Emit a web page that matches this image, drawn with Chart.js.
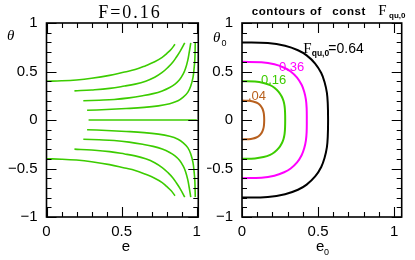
<!DOCTYPE html>
<html><head><meta charset="utf-8">
<script src="https://cdn.jsdelivr.net/npm/chart.js@4/dist/chart.umd.min.js"></script>
<style>
html,body{margin:0;padding:0;background:#fff;width:415px;height:260px;overflow:hidden}
#cL{position:absolute;left:0;top:0}
#cR{position:absolute;left:207px;top:0}
</style></head><body>
<canvas id="cL" width="207" height="260"></canvas>
<canvas id="cR" width="208" height="260"></canvas>
<script>
// ---------- DATA ----------
// Left panel: theta vs e, F = 0.16 (green curves)
const c1E = [0, 0.1, 0.2, 0.3, 0.42, 0.52, 0.59, 0.66, 0.72, 0.77, 0.80, 0.83, 0.855];
const c1T = [0.40, 0.404, 0.413, 0.43, 0.46, 0.495, 0.52, 0.56, 0.60, 0.645, 0.685, 0.73, 0.78];
const c1Tn = [-0.40, -0.404, -0.413, -0.43, -0.46, -0.495, -0.52, -0.56, -0.60, -0.645, -0.685, -0.73, -0.78];
const c2E = [0.186, 0.3, 0.42, 0.52, 0.59, 0.66, 0.72, 0.77, 0.81, 0.84, 0.865, 0.89, 0.92];
const c2T = [0.30, 0.31, 0.326, 0.35, 0.37, 0.40, 0.44, 0.49, 0.545, 0.595, 0.65, 0.71, 0.795];
const c2Tn = [-0.30, -0.31, -0.326, -0.35, -0.37, -0.40, -0.44, -0.49, -0.545, -0.595, -0.65, -0.71, -0.795];
const c3E = [0.245, 0.35, 0.45, 0.55, 0.64, 0.71, 0.77, 0.82, 0.855, 0.885, 0.91, 0.925, 0.94, 0.95, 0.96];
const c3T = [0.198, 0.204, 0.212, 0.228, 0.25, 0.272, 0.30, 0.335, 0.37, 0.415, 0.475, 0.53, 0.615, 0.70, 0.795];
const c3Tn = [-0.198, -0.204, -0.212, -0.228, -0.25, -0.272, -0.30, -0.335, -0.37, -0.415, -0.475, -0.53, -0.615, -0.70, -0.795];
const c4E = [0.27, 0.4, 0.53, 0.65, 0.745, 0.82, 0.875, 0.91, 0.94, 0.96, 0.975, 0.982, 0.987, 0.99];
const c4T = [0.10, 0.108, 0.118, 0.13, 0.146, 0.168, 0.198, 0.235, 0.285, 0.35, 0.44, 0.53, 0.62, 0.795];
const c4Tn = [-0.10, -0.108, -0.118, -0.13, -0.146, -0.168, -0.198, -0.235, -0.285, -0.35, -0.44, -0.53, -0.62, -0.795];
const c5E = [0.28, 1.0];
const c5T = [0, 0];

// Right panel: contours of constant F_qu,0 in (e0, theta0)
const contourLabels = ['0.64', '0.36', '0.16', '.04'];
const k64E = [0, 0.170, 0.283, 0.368, 0.425, 0.481, 0.521, 0.543, 0.558, 0.564, 0.566, 0.564, 0.558, 0.543, 0.521, 0.481, 0.425, 0.368, 0.283, 0.170, 0];
const k64T = [0.80, 0.793, 0.765, 0.719, 0.666, 0.582, 0.484, 0.390, 0.283, 0.166, 0, -0.166, -0.283, -0.390, -0.484, -0.582, -0.666, -0.719, -0.765, -0.793, -0.80];
const k36E = [0, 0.128, 0.213, 0.277, 0.320, 0.362, 0.392, 0.409, 0.420, 0.425, 0.426, 0.425, 0.420, 0.409, 0.392, 0.362, 0.320, 0.277, 0.213, 0.128, 0];
const k36T = [0.60, 0.595, 0.574, 0.539, 0.500, 0.437, 0.363, 0.292, 0.212, 0.125, 0, -0.125, -0.212, -0.292, -0.363, -0.437, -0.500, -0.539, -0.574, -0.595, -0.60];
const k16E = [0, 0.085, 0.142, 0.185, 0.213, 0.241, 0.261, 0.273, 0.280, 0.283, 0.284, 0.283, 0.280, 0.273, 0.261, 0.241, 0.213, 0.185, 0.142, 0.085, 0];
const k16T = [0.40, 0.396, 0.382, 0.360, 0.333, 0.291, 0.242, 0.195, 0.142, 0.083, 0, -0.083, -0.142, -0.195, -0.242, -0.291, -0.333, -0.360, -0.382, -0.396, -0.40];
const k04E = [0, 0.044, 0.073, 0.094, 0.109, 0.123, 0.133, 0.139, 0.143, 0.145, 0.146, 0.145, 0.143, 0.139, 0.133, 0.123, 0.109, 0.094, 0.073, 0.044, 0];
const k04T = [0.20, 0.198, 0.191, 0.180, 0.167, 0.146, 0.121, 0.097, 0.071, 0.042, 0, -0.042, -0.071, -0.097, -0.121, -0.146, -0.167, -0.180, -0.191, -0.198, -0.20];

// Axis ticks
const tickStep = 0.1;
const majorTicks = [-1, -0.5, 0, 0.5, 1];

// ---------- helpers ----------
const zip = (xs, ys) => xs.map((v, i) => ({x: v, y: ys[i]}));
const GREEN = '#3ccc00', MAGENTA = '#ff00ff', BROWN = '#b8601e', BLACK = '#000';
const isMajor = v => majorTicks.some(m => Math.abs(m - v) < 1e-6);
const fmt = v => {
  if (!isMajor(v)) return '';
  const r = Math.round(v * 2) / 2;
  if (r === 0) return '0';
  return (r < 0 ? '\u2212' : '') + String(Math.abs(r));
};

const frameTicks = {
  id: 'frameTicks',
  afterDatasetsDraw(chart) {
    const {ctx, chartArea: a, scales: {x, y}} = chart;
    ctx.save();
    ctx.strokeStyle = '#000';
    ctx.lineWidth = 1.1;
    ctx.beginPath();
    x.ticks.forEach(t => {
      const px = Math.round(x.getPixelForValue(t.value)) + 0.5;
      const L = isMajor(t.value) ? 10 : 5;
      ctx.moveTo(px, a.bottom); ctx.lineTo(px, a.bottom - L);
      ctx.moveTo(px, a.top); ctx.lineTo(px, a.top + L);
    });
    y.ticks.forEach(t => {
      const py = Math.round(y.getPixelForValue(t.value)) + 0.5;
      const L = isMajor(t.value) ? 10 : 5;
      ctx.moveTo(a.left, py); ctx.lineTo(a.left + L, py);
      ctx.moveTo(a.right, py); ctx.lineTo(a.right - L, py);
    });
    ctx.stroke();
    ctx.lineWidth = 1.6;
    ctx.strokeRect(a.left, a.top, a.right - a.left, a.bottom - a.top);
    ctx.restore();
  }
};

const textPlugin = {
  id: 'texts',
  afterDraw(chart, args, opts) {
    const ctx = chart.ctx;
    ctx.save();
    (opts.items || []).forEach(it => {
      ctx.font = it.font;
      ctx.fillStyle = it.color || '#000';
      ctx.textAlign = it.align || 'left';
      ctx.textBaseline = 'alphabetic';
      ctx.letterSpacing = it.ls || '0px';
      ctx.fillText(it.t, it.x, it.y);
    });
    ctx.restore();
  }
};

function scaleOpts(min, max, fitFn) {
  return {
    type: 'linear', min, max,
    ticks: {
      stepSize: tickStep, autoSkip: false, includeBounds: false, maxRotation: 0,
      padding: 0, color: '#000',
      font: {family: "'Liberation Sans', Arial, sans-serif", size: 15},
      callback: v => fmt(v)
    },
    grid: {display: false, drawTicks: false},
    border: {display: false},
    afterFit: fitFn
  };
}

function makeChart(id, datasets, xMax, yWidth, padRight, items, lineW) {
  const xs = scaleOpts(0, xMax, s => { s.height = 43; });
  xs.ticks.padding = 6;
  const ys = scaleOpts(-1, 1, s => { s.width = yWidth; });
  ys.ticks.padding = 9;
  return new Chart(document.getElementById(id), {
    type: 'scatter',
    data: {datasets: datasets.map(d => ({
      data: d.data, borderColor: d.color, backgroundColor: d.color,
      showLine: true, pointRadius: 0, borderWidth: lineW, tension: 0.4, fill: false
    }))},
    options: {
      responsive: false, animation: false, devicePixelRatio: 1,
      layout: {padding: {top: 23, right: padRight, left: 0, bottom: 0}},
      scales: {x: xs, y: ys},
      plugins: {legend: {display: false}, tooltip: {enabled: false}, texts: {items}}
    },
    plugins: [frameTicks, textPlugin]
  });
}

const SANS = "'Liberation Sans', Arial, sans-serif";
const SERIF = "'Liberation Serif', 'Times New Roman', serif";

// Left chart
makeChart('cL', [
  {data: zip(c1E, c1T), color: GREEN}, {data: zip(c1E, c1Tn), color: GREEN},
  {data: zip(c2E, c2T), color: GREEN}, {data: zip(c2E, c2Tn), color: GREEN},
  {data: zip(c3E, c3T), color: GREEN}, {data: zip(c3E, c3Tn), color: GREEN},
  {data: zip(c4E, c4T), color: GREEN}, {data: zip(c4E, c4Tn), color: GREEN},
  {data: zip(c5E, c5T), color: GREEN}
], 1.01, 46.5, 6, [
  {t: 'F=0.16', x: 130, y: 17.5, font: `18px ${SERIF}`, align: 'center', ls: '2px'},
  {t: 'e', x: 126, y: 250.5, font: `15px ${SANS}`, align: 'center'},
  {t: '\u03B8', x: 7, y: 39.5, font: `italic 15px ${SERIF}`}
], 1.6);

// Right chart (canvas offset 207)
const O = 207;
makeChart('cR', [
  {data: zip(k64E, k64T), color: BLACK},
  {data: zip(k36E, k36T), color: MAGENTA},
  {data: zip(k16E, k16T), color: GREEN},
  {data: zip(k04E, k04T), color: BROWN}
], 1.05, 35, 13.3, [
  {t: 'contours', x: 251.7 - O, y: 15, font: `bold 11.5px ${SANS}`, ls: '0.6px'},
  {t: 'of', x: 310 - O, y: 15, font: `bold 11.5px ${SANS}`, ls: '0.6px'},
  {t: 'const', x: 332.3 - O, y: 15, font: `bold 11.5px ${SANS}`, ls: '0.6px'},
  {t: 'F', x: 378.3 - O, y: 15, font: `15px ${SERIF}`},
  {t: 'qu,0', x: 389 - O, y: 17.5, font: `bold 8px ${SANS}`},
  {t: 'F', x: 303.3 - O, y: 53.3, font: `15px ${SERIF}`},
  {t: 'qu,0', x: 311.7 - O, y: 55.7, font: `bold 8.5px ${SANS}`},
  {t: '=' + contourLabels[0], x: 328.3 - O, y: 53.3, font: `14px ${SANS}`},
  {t: contourLabels[1], x: 279 - O, y: 70.7, font: `13px ${SANS}`, color: MAGENTA},
  {t: contourLabels[2], x: 261 - O, y: 84, font: `13px ${SANS}`, color: GREEN},
  {t: contourLabels[3], x: 248 - O, y: 100, font: `13px ${SANS}`, color: BROWN},
  {t: 'e', x: 316 - O, y: 250.5, font: `15px ${SANS}`},
  {t: '0', x: 324 - O, y: 255, font: `9px ${SANS}`},
  {t: '\u03B8', x: 213 - O, y: 41.5, font: `italic 15px ${SERIF}`},
  {t: '0', x: 221.5 - O, y: 46, font: `9px ${SANS}`}
], 2.0);
</script>
</body></html>
